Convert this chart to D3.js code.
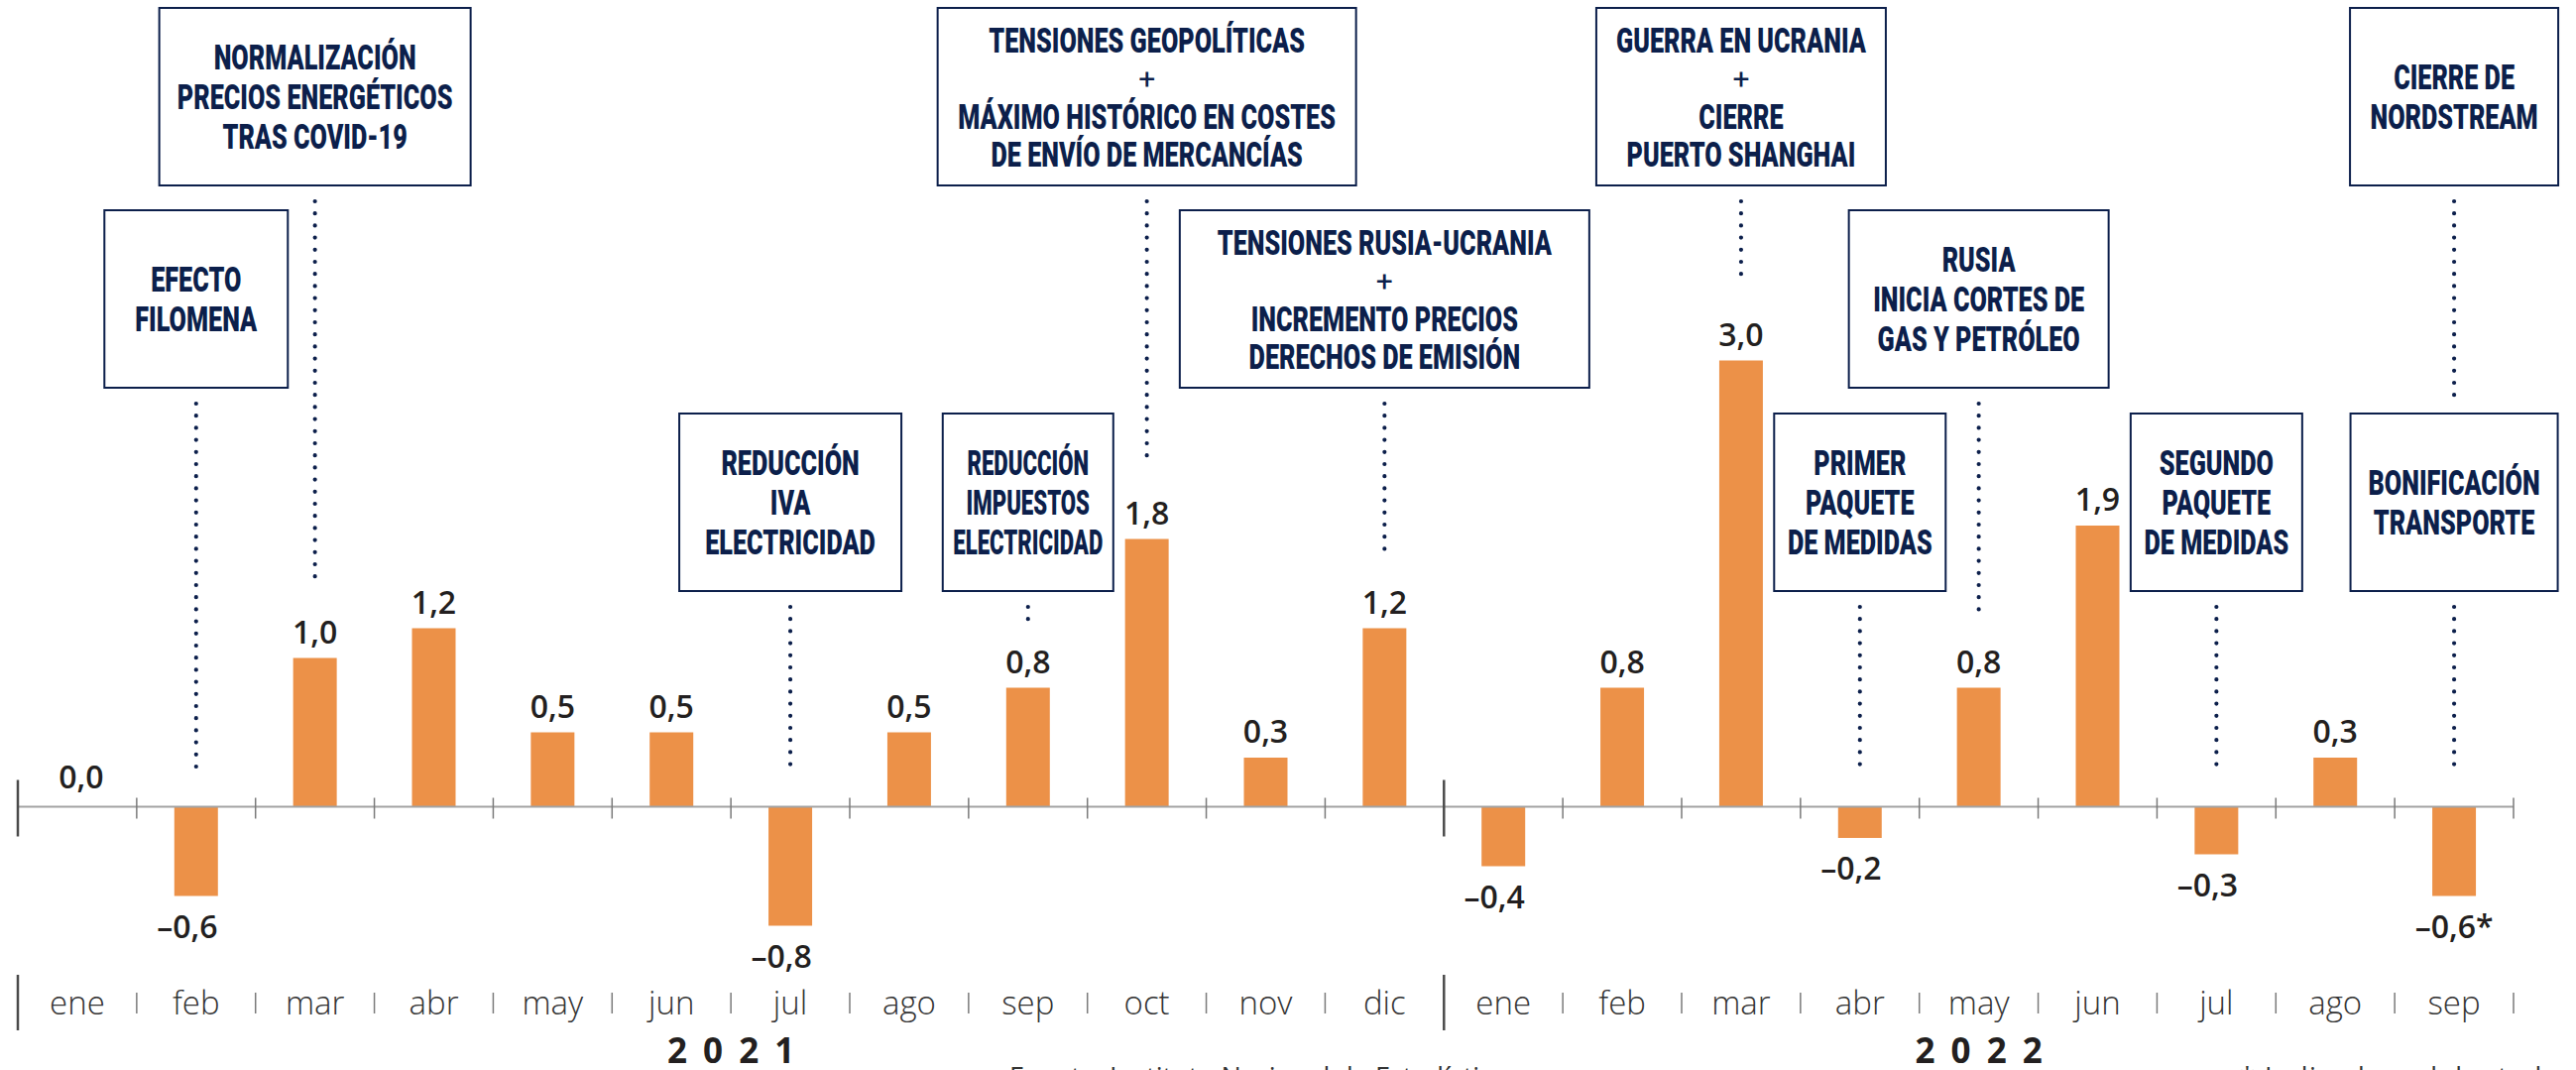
<!DOCTYPE html>
<html>
<head>
<meta charset="utf-8">
<script src="https://cdn.jsdelivr.net/npm/d3@7"></script>
<style>
  html, body { margin: 0; padding: 0; background: #ffffff; }
  svg { display: block; }
</style>
</head>
<body>
<div id="chart"></div>
<script>
// ---------------- DATA ----------------
const months = ["ene","feb","mar","abr","may","jun","jul","ago","sep","oct","nov","dic",
                "ene","feb","mar","abr","may","jun","jul","ago","sep"];
const years = ["2021","2022"];
const monthsPerYear = [12, 9];
const values = [0.0,-0.6,1.0,1.2,0.5,0.5,-0.8,0.5,0.8,1.8,0.33,1.2,
                -0.4,0.8,3.0,-0.21,0.8,1.89,-0.32,0.33,-0.6];
const valueLabels = ["0,0","–0,6","1,0","1,2","0,5","0,5","–0,8","0,5","0,8","1,8","0,3","1,2",
                     "–0,4","0,8","3,0","–0,2","0,8","1,9","–0,3","0,3","–0,6*"];
const eventMonth = [1, 2, 6, 8, 9, 11, 14, 15, 16, 18, 20, 20];
const eventLines = [
  ["EFECTO","FILOMENA"],
  ["NORMALIZACIÓN","PRECIOS ENERGÉTICOS","TRAS COVID-19"],
  ["REDUCCIÓN","IVA","ELECTRICIDAD"],
  ["REDUCCIÓN","IMPUESTOS","ELECTRICIDAD"],
  ["TENSIONES GEOPOLÍTICAS","+","MÁXIMO HISTÓRICO EN COSTES","DE ENVÍO DE MERCANCÍAS"],
  ["TENSIONES RUSIA-UCRANIA","+","INCREMENTO PRECIOS","DERECHOS DE EMISIÓN"],
  ["GUERRA EN UCRANIA","+","CIERRE","PUERTO SHANGHAI"],
  ["PRIMER","PAQUETE","DE MEDIDAS"],
  ["RUSIA","INICIA CORTES DE","GAS Y PETRÓLEO"],
  ["SEGUNDO","PAQUETE","DE MEDIDAS"],
  ["CIERRE DE","NORDSTREAM"],
  ["BONIFICACIÓN","TRANSPORTE"]
];
const sourceText = "Fuente: Instituto Nacional de Estadística";
const noteText = "* Indicador adelantado";

// ---------------- LAYOUT / STYLE ----------------
const W = 2598, H = 1079;
const boxTier  = [1,0,2,2,0,1,0,2,1,2,0,2];
const boxWidth = [185,314,224,172,422,413,292,173,262,173,210,209];
const boxTextSqueeze = [1,1,1,0.88,1,1,1,1,1,1,1,1];
const connectorGap = [40,40,40,26,40,40,44,40,40,40,40,40];
const tierTops = [8, 212, 417], boxH = 179;
const C = {
  bar: "#EC9148", navy: "#0c1f4b", label: "#231f20", month: "#333333",
  axis: "#a3a3a3", tick: "#7a7a7a", divider: "#4a4a4a"
};

const keys = months.map((m, i) => (i < monthsPerYear[0] ? years[0] : years[1]) + "-" + m);

const x = d3.scaleBand().domain(keys).range([18, 2535]).padding(0);
const xBar = d3.scaleBand().domain(keys).range([18, 2535])
  .paddingInner(0.633).paddingOuter(0.3165);
const y = d3.scaleLinear().domain([0, 3]).range([813.5, 363.5]);
const cx = k => x(k) + x.bandwidth() / 2;

const svg = d3.select("#chart").append("svg")
  .attr("width", W).attr("height", H).attr("viewBox", `0 0 ${W} ${H}`);

// bars
svg.append("g").selectAll("rect").data(values).join("rect")
  .attr("x", (d, i) => xBar(keys[i]))
  .attr("width", xBar.bandwidth())
  .attr("y", d => y(Math.max(0, d)))
  .attr("height", d => Math.abs(y(d) - y(0)))
  .attr("fill", C.bar);

// axis baseline
const x0 = x.range()[0], x1 = x.range()[1];
svg.append("line").attr("x1", x0).attr("x2", x1)
  .attr("y1", y(0)).attr("y2", y(0))
  .attr("stroke", C.axis).attr("stroke-width", 2);

// boundaries (ticks)
const boundaries = keys.map(k => x(k)).concat([x1]);
const yearStartIdx = [0, monthsPerYear[0]];
boundaries.forEach((bx, i) => {
  const major = yearStartIdx.includes(i);
  svg.append("line").attr("x1", bx).attr("x2", bx)
    .attr("y1", major ? y(0) - 27 : y(0) - 9)
    .attr("y2", major ? y(0) + 30 : y(0) + 12)
    .attr("stroke", major ? C.divider : C.tick)
    .attr("stroke-width", major ? 2.5 : 1.5);
  svg.append("line").attr("x1", bx).attr("x2", bx)
    .attr("y1", major ? 983 : 1001)
    .attr("y2", major ? 1039 : 1022)
    .attr("stroke", major ? C.divider : C.tick)
    .attr("stroke-width", major ? 2.5 : 1.5);
});

// month labels
svg.append("g").selectAll("text").data(months).join("text")
  .attr("x", (d, i) => cx(keys[i]))
  .attr("y", 1023)
  .attr("text-anchor", "middle")
  .attr("font-family", "'Open Sans', sans-serif")
  .attr("font-weight", 300)
  .attr("font-size", 33)
  .attr("fill", C.month)
  .text(d => d);

// year labels
let startIdx = 0;
years.forEach((yr, j) => {
  const a = x(keys[startIdx]);
  const endIdx = startIdx + monthsPerYear[j];
  const b = endIdx < keys.length ? x(keys[endIdx]) : x1;
  svg.append("text")
    .attr("x", (a + b) / 2 + 8)
    .attr("y", 1072)
    .attr("text-anchor", "middle")
    .attr("font-family", "'Open Sans', sans-serif")
    .attr("font-weight", 700)
    .attr("font-size", 35)
    .attr("letter-spacing", 16)
    .attr("fill", C.label)
    .text(yr);
  startIdx = endIdx;
});

// value labels
svg.append("g").selectAll("text").data(values).join("text")
  .attr("x", (d, i) => cx(keys[i]) + (d < 0 && !valueLabels[i].includes("*") ? -9 : 0) + (d === 0 ? 4 : 0))
  .attr("y", d => d > 0 ? y(d) - 15 : (d < 0 ? y(d) + 42 : y(0) - 19))
  .attr("text-anchor", "middle")
  .attr("font-family", "'Open Sans', sans-serif")
  .attr("font-weight", 600)
  .attr("font-size", 32)
  .attr("fill", C.label)
  .text((d, i) => valueLabels[i]);

// annotation boxes
const sx = 0.70, fs = 36, capH = 25.6;
eventLines.forEach((lines, i) => {
  const k = keys[eventMonth[i]];
  const c = cx(k);
  const top = tierTops[boxTier[i]];
  const w = boxWidth[i];
  const g = svg.append("g");
  g.append("rect")
    .attr("x", c - w / 2).attr("y", top)
    .attr("width", w).attr("height", boxH)
    .attr("fill", "#fff").attr("stroke", C.navy).attr("stroke-width", 2);
  const lh = lines.length >= 4 ? 38.5 : 40;
  const mid = top + boxH / 2;
  const firstBase = mid - (lines.length - 1) * lh / 2 + capH / 2;
  lines.forEach((t, j) => {
    const plus = t === "+";
    g.append("text")
      .attr("transform", `translate(${c},${firstBase + j * lh + (plus ? -1 : 0)}) scale(${plus ? 1 : sx * boxTextSqueeze[i]},1)`)
      .attr("text-anchor", "middle")
      .attr("font-family", "Roboto, 'Liberation Sans', sans-serif")
      .attr("font-weight", plus ? 400 : 900)
      .attr("font-size", plus ? 30 : fs)
      .attr("fill", C.navy)
      .text(t);
  });

  // dotted connector
  const v = values[eventMonth[i]];
  const startY = top + boxH + 16;
  let endY;
  const below = eventMonth.findIndex((m, q) => q !== i && m === eventMonth[i] && boxTier[q] > boxTier[i]);
  if (below >= 0) {
    endY = tierTops[boxTier[below]] - 16;
  } else {
    const obstacle = v > 0 ? y(v) - 15 - 23 : y(0);
    endY = obstacle - connectorGap[i];
  }
  svg.append("path")
    .attr("d", d3.line()([[c, startY], [c, endY]]))
    .attr("stroke", C.navy).attr("stroke-width", 4.2)
    .attr("stroke-linecap", "round")
    .attr("stroke-dasharray", "0,12.2")
    .attr("fill", "none");
});

// footer (cut by the bottom edge, as in the reference)
svg.append("text").attr("x", 1018).attr("y", 1096)
  .attr("font-family", "'Open Sans', sans-serif").attr("font-size", 27)
  .attr("fill", "#333").text(sourceText);
svg.append("text").attr("x", 2259).attr("y", 1096)
  .attr("font-family", "'Open Sans', sans-serif").attr("font-size", 27)
  .attr("letter-spacing", 1.5)
  .attr("fill", "#333").text(noteText);
</script>
</body>
</html>
